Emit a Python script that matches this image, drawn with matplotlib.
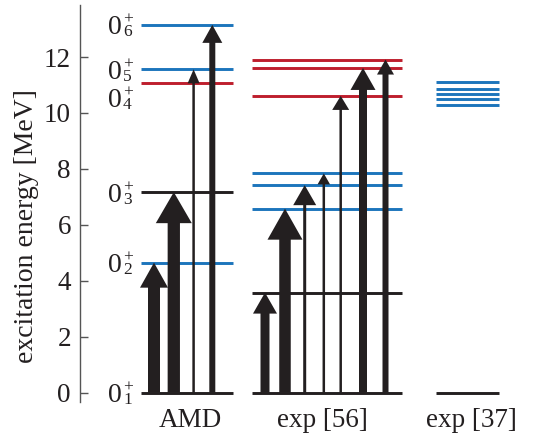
import matplotlib
matplotlib.use("Agg")
import matplotlib.pyplot as plt

# ---------------- data (MeV) ----------------
columns = ["AMD", "exp [56]", "exp [37]"]
amd_levels = [0.0, 4.65, 7.17, 11.08, 11.56, 13.15]
amd_label_base = ["0", "0", "0", "0", "0", "0"]
amd_label_sup = ["+", "+", "+", "+", "+", "+"]
amd_label_sub = ["1", "2", "3", "4", "5", "6"]
amd_arrow_targets = [4.65, 7.17, 11.56, 13.15]
exp56_levels = [0.0, 3.58, 6.58, 7.42, 7.84, 10.61, 11.61, 11.91]
exp56_arrow_targets = [3.58, 6.58, 7.42, 7.84, 10.61, 11.61, 11.91]
exp37_levels = [0.0, 10.27, 10.51, 10.68, 10.87, 11.09]
yticks = [0, 2, 4, 6, 8, 10, 12]

# ---------------- style ----------------
BLACK = "#231f20"
BLUE = "#1c75bc"
RED = "#be1e2d"
amd_colors = [BLACK, BLUE, BLACK, RED, BLUE, BLUE]
exp56_colors = [BLACK, BLACK, BLUE, BLUE, BLUE, RED, RED, RED]
exp37_colors = [BLACK, BLUE, BLUE, BLUE, BLUE, BLUE]
# vertical nudge (points) of each AMD label to avoid overlaps
amd_label_nudge = [0, 0, 0, -10.6, 0, 0]

plt.rcParams["font.family"] = ["Liberation Serif", "DejaVu Serif"]

W, H = 537, 438
fig = plt.figure(figsize=(W / 100, H / 100), dpi=100)
ax_left_px, ax_top_px, ax_bot_px = 80, 5, 401.7
ax = fig.add_axes([ax_left_px / W, (H - ax_bot_px) / H,
                   (W - ax_left_px) / W, (ax_bot_px - ax_top_px) / H])
ax.set_xlim(0, W - ax_left_px)
ax.set_ylim(-0.32, 13.86)
px_per_mev = (ax_bot_px - ax_top_px) / (13.86 + 0.32)

# column extents (x in axis pixels)
col_span = {"AMD": (60.7, 153.3), "exp [56]": (171.7, 322.3), "exp [37]": (355.7, 419.0)}
col_label_x = {"AMD": 110, "exp [56]": 242, "exp [37]": 391}

def draw_levels(col, levels, colors):
    x0, x1 = col_span[col]
    for e, c in zip(levels, colors):
        ax.hlines(e, x0, x1, colors=c, lw=2.1, zorder=2)

draw_levels("AMD", amd_levels, amd_colors)
draw_levels("exp [56]", exp56_levels, exp56_colors)
draw_levels("exp [37]", exp37_levels, exp37_colors)

# arrows: (x position, shaft width px, head width px, head length px)
amd_arrow_style = [(74.0, 12, 28, 25), (93.8, 12.3, 36, 31),
                   (113.6, 2.5, 12, 14), (132.3, 6, 20, 18)]
exp56_arrow_style = [(185.0, 9, 24, 21), (205.0, 11.5, 35, 31),
                     (224.7, 3, 23, 20), (243.8, 2.5, 12.5, 11),
                     (260.7, 2.5, 17, 14), (283.0, 8, 25, 22),
                     (305.5, 6, 17, 15)]

def draw_arrows(targets, styles):
    for t, (x, w, hw, hl) in zip(targets, styles):
        ax.arrow(x, 0, 0, t, width=w, head_width=hw,
                 head_length=hl / px_per_mev, length_includes_head=True,
                 color=BLACK, lw=0, zorder=3)

draw_arrows(amd_arrow_targets, amd_arrow_style)
draw_arrows(exp56_arrow_targets, exp56_arrow_style)

# level labels for AMD: 0 with stacked superscript "+" and subscript index
lab_x = 41.7
for e, b, sp, sb, dy in zip(amd_levels, amd_label_base, amd_label_sup,
                            amd_label_sub, amd_label_nudge):
    ax.annotate(b, xy=(lab_x, e), xytext=(0, -6.8 + dy), textcoords="offset points",
                ha="right", va="baseline", fontsize=20, color=BLACK)
    ax.annotate(sp, xy=(lab_x, e), xytext=(0.8, 0.6 + dy), textcoords="offset points",
                ha="left", va="baseline", fontsize=12.5, color=BLACK)
    ax.annotate(sb, xy=(lab_x, e), xytext=(1.0, -8.2 + dy), textcoords="offset points",
                ha="left", va="baseline", fontsize=12.5, color=BLACK)

# column labels
for col in columns:
    ax.annotate(col, xy=(col_label_x[col], -0.32), xytext=(0, -18.3),
                textcoords="offset points", ha="center", va="baseline",
                fontsize=19.5, color=BLACK, annotation_clip=False)

# axes styling
for s in ["top", "right", "bottom"]:
    ax.spines[s].set_visible(False)
ax.spines["left"].set_color("#555555")
ax.spines["left"].set_linewidth(1.0)
ax.set_xticks([])
ax.set_yticks(yticks)
ax.tick_params(axis="y", direction="in", length=6, width=1.0, color="#555555",
               pad=6.5, labelsize=19.5, labelcolor=BLACK)
ax.set_ylabel("excitation energy [MeV]", fontsize=20, color=BLACK, va="center")
ax.yaxis.set_label_coords(-0.116, 0.442)

fig.savefig("out.png", dpi=100)
